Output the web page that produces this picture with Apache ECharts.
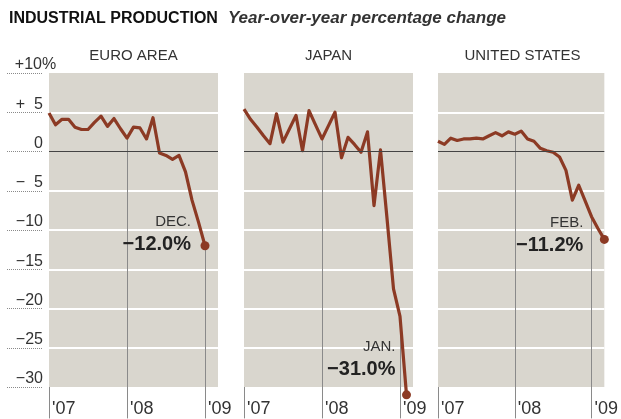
<!DOCTYPE html>
<html>
<head>
<meta charset="utf-8">
<title>Industrial production</title>
<script src="https://cdn.jsdelivr.net/npm/echarts@6/dist/echarts.min.js"></script>
<style>
html, body { margin: 0; padding: 0; background: #fff; }
#chart { width: 621px; height: 419px; }
</style>
</head>
<body>
<div id="chart"></div>
<script>
// 工业生产同比变化（%），2006年12月起按月
const euroArea = [4.9, 3.4, 4.1, 4.1, 3.1, 2.8, 2.8, 3.7, 4.5, 3.2, 4.2, 2.9, 1.7, 3.1, 3.0, 1.6, 4.3, -0.2, -0.5, -1.0, -0.5, -2.6, -6.2, -9.0, -12.0]
const japan = [5.4, 4.1, 3.1, 2.0, 1.0, 4.8, 1.2, 2.9, 4.6, 0.1, 5.2, 3.4, 1.6, 3.3, 5.0, -0.8, 1.8, 0.9, -0.1, 2.5, -6.9, 0.2, -8.5, -17.5, -21.0, -31.0]
const unitedStates = [1.3, 0.9, 1.7, 1.4, 1.6, 1.6, 1.7, 1.6, 2.0, 2.4, 2.0, 2.5, 2.2, 2.6, 1.6, 1.3, 0.4, 0.1, -0.1, -0.7, -2.4, -6.2, -4.3, -6.3, -8.3, -9.8, -11.2]

const panelNames = ['EURO AREA', 'JAPAN', 'UNITED STATES']
const endMonths = ['DEC.', 'JAN.', 'FEB.']
const yearLabels = ["'07", "'08", "'09"]
const yTicks = [10, 5, 0, -5, -10, -15, -20, -25, -30]
const yTickLabels = ['+10%', '+\u20075', '0', '\u2212\u20075', '\u221210', '\u221215', '\u221220', '\u221225', '\u221230']

const FONT = '"Liberation Sans", Arial, sans-serif'
const LINE = '#8c3a24'
const PANEL_BG = '#d9d6ce'
const panelLeft = [49, 244, 438]
// 标注位置偏移
const labelOffset = [[0.5, -12], [3.5, -36], [-6.5, -5]]

const seriesData = [euroArea, japan, unitedStates]
const ascTicks = yTicks.slice().sort((a, b) => a - b)
const splitColors = ascTicks.map(v => (v === 0 || v === ascTicks[0] || v === ascTicks[ascTicks.length - 1]) ? 'rgba(0,0,0,0)' : '#ffffff')

const fmtValue = v => (v < 0 ? '\u2212' : '+') + Math.abs(v).toFixed(1) + '%'

const chart = echarts.init(document.getElementById('chart'), null, { renderer: 'canvas' })

const grid = panelLeft.map(l => ({
  left: l, top: 73, width: 169, height: 314,
  show: true, backgroundColor: PANEL_BG, borderWidth: 0
}))
grid.push({ left: 7, top: 73, width: 36, height: 314 })

const xAxis = panelLeft.map((l, k) => ({
  gridIndex: k,
  type: 'value',
  min: 0,
  max: 26,
  interval: 12,
  axisLine: { show: false },
  axisTick: { show: false },
  splitLine: { show: false },
  axisLabel: {
    formatter: v => (v % 12 === 0 ? yearLabels[v / 12] || '' : ''),
    align: 'left',
    verticalAlign: 'top',
    padding: [0, 0, 0, 3],
    margin: 13,
    fontSize: 18,
    fontFamily: FONT,
    color: '#333'
  }
}))
xAxis.push({ gridIndex: 3, type: 'value', min: 0, max: 1, show: false })

const yAxis = panelLeft.map((l, k) => ({
  gridIndex: k,
  type: 'value',
  min: -30,
  max: 10,
  interval: 5,
  axisLine: { show: false },
  axisTick: { show: false },
  axisLabel: { show: false },
  splitLine: { lineStyle: { color: splitColors, width: 2 } }
}))
yAxis.push({
  gridIndex: 3,
  type: 'value',
  min: -30,
  max: 10,
  interval: 5,
  position: 'right',
  axisLine: { show: false },
  axisTick: { show: false },
  splitLine: { lineStyle: { color: '#8a8a8a', type: 'dotted', width: 1 } },
  axisLabel: {
    inside: true,
    verticalAlign: 'bottom',
    margin: 0,
    fontSize: 16,
    fontFamily: FONT,
    color: '#333',
    formatter: v => {
      const s = yTickLabels[yTicks.indexOf(v)] || ''
      // 百分号伸出到面板上方
      if (s.indexOf('%') > -1) {
        return '{n|' + s.replace('%', '') + '}{p|%}'
      }
      return s
    },
    rich: {
      n: { fontSize: 16, fontFamily: FONT, color: '#333', align: 'left' },
      p: { fontSize: 16, fontFamily: FONT, color: '#333', width: 1, align: 'left' }
    }
  }
})

const series = []
seriesData.forEach((vals, k) => {
  const last = vals.length - 1
  // 年份竖线 + 零线
  series.push({
    type: 'lines',
    coordinateSystem: 'cartesian2d',
    xAxisIndex: k,
    yAxisIndex: k,
    silent: true,
    clip: false,
    z: 1,
    lineStyle: { color: '#8a8a8a', width: 1, opacity: 1, curveness: 0 },
    data: [
      { coords: [[0, -30], [0, -34]] },
      { coords: [[12, vals[12]], [12, -34]] },
      { coords: [[24, vals[24]], [24, -34]] }
    ],
    markLine: {
      silent: true,
      symbol: 'none',
      animation: false,
      label: { show: false },
      lineStyle: { color: '#444', width: 1, type: 'solid' },
      data: [{ yAxis: 0 }]
    },
    animation: false
  })
  series.push({
    type: 'line',
    xAxisIndex: k,
    yAxisIndex: k,
    data: vals.map((v, i) => [i, v]),
    symbol: 'none',
    clip: false,
    z: 3,
    lineStyle: { color: LINE, width: 3.2, join: 'round' },
    animation: false
  })
  series.push({
    type: 'scatter',
    xAxisIndex: k,
    yAxisIndex: k,
    data: [[last, vals[last]]],
    symbolSize: 9,
    clip: false,
    z: 4,
    itemStyle: { color: LINE, opacity: 1 },
    label: {
      show: true,
      position: 'left',
      distance: 10,
      offset: labelOffset[k],
      align: 'right',
      formatter: p => '{m|' + endMonths[k] + '}\n{v|' + fmtValue(p.value[1]) + '}',
      rich: {
        m: { fontSize: 15, lineHeight: 22, fontFamily: FONT, color: '#333', align: 'right' },
        v: { fontSize: 20, lineHeight: 24, fontWeight: 'bold', fontFamily: FONT, color: '#222', align: 'right' }
      }
    },
    animation: false
  })
})

const option = {
  backgroundColor: '#fff',
  animation: false,
  title: {
    left: 9,
    top: 10,
    padding: 0,
    text: '{b|INDUSTRIAL PRODUCTION}{i|Year-over-year percentage change}',
    textStyle: {
      rich: {
        b: { fontSize: 16, fontWeight: 'bold', fontFamily: FONT, color: '#111' },
        i: { fontSize: 17, fontStyle: 'italic', fontFamily: FONT, color: '#333', padding: [0, 0, 0, 10] }
      }
    }
  },
  graphic: panelNames.map((n, k) => ({
    type: 'text',
    x: panelLeft[k] + 84.5,
    y: 56,
    silent: true,
    style: {
      text: n,
      align: 'center',
      verticalAlign: 'middle',
      fontSize: 15,
      fontFamily: FONT,
      fill: '#333'
    }
  })),
  grid: grid,
  xAxis: xAxis,
  yAxis: yAxis,
  series: series
}

chart.setOption(option)
</script>
</body>
</html>
